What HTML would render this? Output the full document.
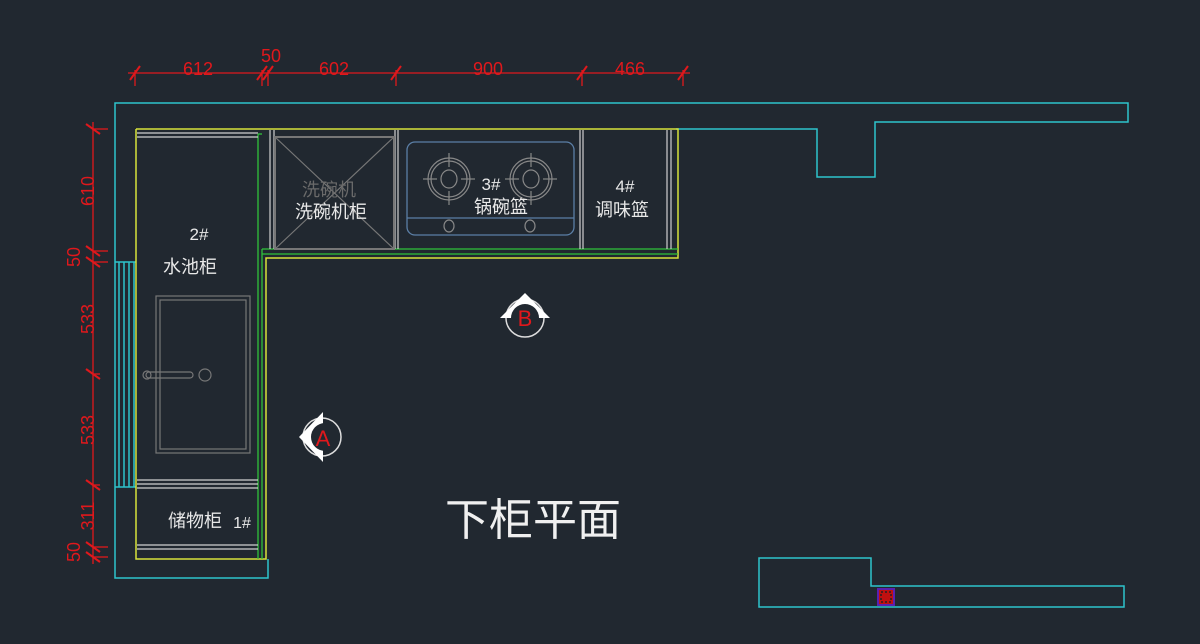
<!DOCTYPE html>
<html><head><meta charset="utf-8"><style>
html,body{margin:0;padding:0;background:#212830;}
svg{display:block}
text{font-family:"Liberation Sans","Noto Sans CJK SC",sans-serif;}
</style></head><body>
<svg width="1200" height="644" viewBox="0 0 1200 644" xmlns="http://www.w3.org/2000/svg">
<rect width="1200" height="644" fill="#212830"/>
<!-- cyan counter outline -->
<g fill="none" stroke="#2ec4cc" stroke-width="1.5">
<polyline points="676,129 817,129 817,177 875,177 875,122 1128,122 1128,103 115,103 115,578 268,578 268,559"/>
<polyline points="115,487 136,487"/>
<polyline points="115,262 136,262"/>
<line x1="119" y1="262" x2="119" y2="487"/><line x1="124" y1="262" x2="124" y2="487"/><line x1="129" y1="262" x2="129" y2="487"/><line x1="134" y1="262" x2="134" y2="487"/>
<polygon points="759,558 871,558 871,586 1124,586 1124,607 759,607"/>
</g>
<!-- yellow cabinet outline -->
<g fill="none" stroke="#d8e33a" stroke-width="1.5">
<polyline points="136,129 678,129 678,258 266,258 266,559 136,559 136,129"/>
</g>
<!-- green -->
<g fill="none" stroke="#2fc33a" stroke-width="1.3">
<line x1="258" y1="134" x2="258" y2="559"/>
<line x1="262" y1="249" x2="262" y2="559"/>
<line x1="262" y1="249" x2="678" y2="249"/>
<line x1="262" y1="254" x2="678" y2="254"/>
<line x1="258" y1="134" x2="262" y2="134"/>
</g>
<!-- white/grey details -->
<g fill="none" stroke="#d0d0d0" stroke-width="1.2">
<line x1="137" y1="133" x2="258" y2="133"/><line x1="137" y1="137" x2="258" y2="137"/>
<line x1="137" y1="480" x2="258" y2="480"/><line x1="137" y1="484" x2="258" y2="484"/><line x1="137" y1="488" x2="258" y2="488"/>
<line x1="137" y1="545" x2="258" y2="545"/><line x1="137" y1="549" x2="258" y2="549"/>
<line x1="270" y1="130" x2="270" y2="249"/><line x1="274" y1="130" x2="274" y2="249"/>
<line x1="395" y1="130" x2="395" y2="249"/><line x1="398" y1="130" x2="398" y2="249"/>
<line x1="580" y1="130" x2="580" y2="249"/><line x1="583" y1="130" x2="583" y2="249"/>
<line x1="667" y1="130" x2="667" y2="249"/><line x1="671" y1="130" x2="671" y2="249"/>
</g>
<g fill="none" stroke="#777" stroke-width="1.2">
<rect x="275" y="137" width="119" height="112" stroke-width="2"/>
<line x1="275" y1="137" x2="394" y2="249"/><line x1="394" y1="137" x2="275" y2="249"/>
<rect x="156" y="296" width="94" height="157"/>
<rect x="160" y="300" width="86" height="149"/>
<rect x="146" y="372" width="47" height="6" rx="3"/>
<circle cx="147" cy="375" r="4"/>
<circle cx="205" cy="375" r="6"/>
</g>
<!-- stove -->
<g fill="none" stroke="#5b7fa6" stroke-width="1.3">
<rect x="407" y="142" width="167" height="93" rx="8"/>
<line x1="407" y1="218" x2="574" y2="218"/>
</g>
<g fill="none" stroke="#888" stroke-width="1.2">
<circle cx="449" cy="179" r="21"/><circle cx="449" cy="179" r="18"/>
<ellipse cx="449" cy="179" rx="8" ry="9"/>
<line x1="449" y1="153" x2="449" y2="167"/><line x1="449" y1="191" x2="449" y2="205"/>
<line x1="423" y1="179" x2="437" y2="179"/><line x1="461" y1="179" x2="475" y2="179"/>
<circle cx="531" cy="179" r="21"/><circle cx="531" cy="179" r="18"/>
<ellipse cx="531" cy="179" rx="8" ry="9"/>
<line x1="531" y1="153" x2="531" y2="167"/><line x1="531" y1="191" x2="531" y2="205"/>
<line x1="505" y1="179" x2="519" y2="179"/><line x1="543" y1="179" x2="557" y2="179"/>
<ellipse cx="449" cy="226" rx="5" ry="6"/><ellipse cx="530" cy="226" rx="5" ry="6"/>
</g>
<!-- labels -->
<g fill="#e8e8e8" font-size="18">
<text x="329" y="196" fill="#6a6a6a" text-anchor="middle">洗碗机</text>
<text x="331" y="218" text-anchor="middle">洗碗机柜</text>
<text x="491" y="190" text-anchor="middle" font-size="17">3#</text>
<text x="501" y="213" text-anchor="middle">锅碗篮</text>
<text x="625" y="192" text-anchor="middle" font-size="17">4#</text>
<text x="622" y="216" text-anchor="middle">调味篮</text>
<text x="199" y="240" text-anchor="middle" font-size="17">2#</text>
<text x="190" y="273" text-anchor="middle">水池柜</text>
<text x="195" y="527" text-anchor="middle">储物柜</text>
<text x="242" y="528" text-anchor="middle" font-size="16">1#</text>
<text x="533" y="535" text-anchor="middle" font-size="44" fill="#f0f0f0">下柜平面</text>
</g>
<!-- markers -->
<g>
<circle cx="322" cy="437" r="19" fill="none" stroke="#ddd" stroke-width="1.5"/>
<polygon points="299,437 323,412 323,462" fill="#fff"/>
<circle cx="325" cy="437" r="14" fill="#212830"/>
<text x="323" y="446" fill="#e0181c" font-size="22" text-anchor="middle">A</text>
<circle cx="525" cy="318" r="19" fill="none" stroke="#ddd" stroke-width="1.5"/>
<polygon points="500,318 525,293 550,318" fill="#fff"/>
<circle cx="525" cy="318" r="14" fill="#212830"/>
<text x="525" y="326" fill="#e0181c" font-size="22" text-anchor="middle">B</text>
<rect x="878" y="589" width="16" height="16" fill="#c01010" stroke="#5a1fb0" stroke-width="2"/>
<path d="M881 592h10v10h-10z" fill="none" stroke="#222" stroke-width="1.5" stroke-dasharray="2 2"/>
</g>
<!-- dimensions -->
<g stroke="#e0181c" stroke-width="1.3" fill="none">
<line x1="128" y1="73" x2="690" y2="73"/>
<line x1="135" y1="70" x2="135" y2="86"/><line x1="262" y1="70" x2="262" y2="86"/><line x1="268" y1="70" x2="268" y2="86"/><line x1="396" y1="70" x2="396" y2="86"/><line x1="582" y1="70" x2="582" y2="86"/><line x1="683" y1="70" x2="683" y2="86"/>
<g stroke-width="2">
<line x1="130" y1="80" x2="140" y2="66"/><line x1="257" y1="80" x2="267" y2="66"/><line x1="263" y1="80" x2="273" y2="66"/><line x1="391" y1="80" x2="401" y2="66"/><line x1="577" y1="80" x2="587" y2="66"/><line x1="678" y1="80" x2="688" y2="66"/>
</g>
<line x1="93" y1="122" x2="93" y2="564"/>
<line x1="93" y1="129" x2="108" y2="129"/><line x1="93" y1="251" x2="108" y2="251"/><line x1="93" y1="262" x2="108" y2="262"/><line x1="93" y1="374" x2="100" y2="374"/><line x1="93" y1="485" x2="100" y2="485"/><line x1="93" y1="547" x2="108" y2="547"/><line x1="93" y1="557" x2="108" y2="557"/>
<g stroke-width="2">
<line x1="86" y1="124" x2="100" y2="134"/><line x1="86" y1="246" x2="100" y2="256"/><line x1="86" y1="257" x2="100" y2="267"/><line x1="86" y1="369" x2="100" y2="379"/><line x1="86" y1="480" x2="100" y2="490"/><line x1="86" y1="542" x2="100" y2="552"/><line x1="86" y1="552" x2="100" y2="562"/>
</g>
</g>
<g fill="#e0181c" font-size="18" text-anchor="middle">
<text x="198" y="75">612</text>
<text x="271" y="62">50</text>
<text x="334" y="75">602</text>
<text x="488" y="75">900</text>
<text x="630" y="75">466</text>
<text transform="translate(94,191) rotate(-90)">610</text>
<text transform="translate(80,257) rotate(-90)">50</text>
<text transform="translate(94,319) rotate(-90)">533</text>
<text transform="translate(94,430) rotate(-90)">533</text>
<text transform="translate(94,516) rotate(-90)">311</text>
<text transform="translate(80,552) rotate(-90)">50</text>
</g>
</svg>
</body></html>
